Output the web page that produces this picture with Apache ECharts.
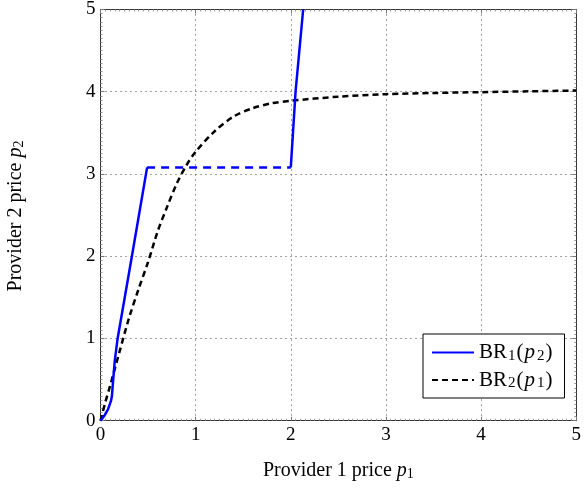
<!DOCTYPE html>
<html><head><meta charset="utf-8">
<script src="https://cdn.jsdelivr.net/npm/echarts@6/dist/echarts.min.js"></script>
<style>html,body{margin:0;padding:0;background:#fff}#c{width:584px;height:490px}</style>
</head><body><div id="c"></div>
<script>
// BR1 solid part (lower), dashed plateau, solid part (upper)
const br1LowX = [0, 0.04, 0.08, 0.11, 0.12, 0.13, 0.15, 0.18, 0.33, 0.49];
const br1LowY = [0, 0.06, 0.14, 0.24, 0.3, 0.45, 0.73, 1.0, 2.0, 3.08];
const br1FlatX = [0.49, 2.0];
const br1FlatY = [3.08, 3.08];
const br1HighX = [2.0, 2.05, 2.13];
const br1HighY = [3.08, 4.0, 5.0];
// BR2
const br2X = [0, 0.05, 0.1, 0.2, 0.3, 0.4, 0.5, 0.6, 0.7, 0.8, 0.9, 1.0, 1.2, 1.4, 1.6, 1.8, 2.0, 2.5, 3.0, 3.5, 4.0, 4.5, 5.0];
const br2Y = [0, 0.22, 0.42, 0.84, 1.25, 1.6, 1.93, 2.3, 2.6, 2.88, 3.1, 3.27, 3.52, 3.7, 3.8, 3.86, 3.89, 3.94, 3.97, 3.985, 3.995, 4.005, 4.015];
const xTicks = [0, 1, 2, 3, 4, 5];
const yTicks = [0, 1, 2, 3, 4, 5];
const legendNames = ['BR1(p2)', 'BR2(p1)'];

const zip = (a, b) => a.map((v, i) => [v, b[i]]);
const FONT = 'Liberation Serif';
const rich = {
  a: {fontFamily: FONT, fontSize: 20, color: '#000'},
  i: {fontFamily: FONT, fontSize: 20, fontStyle: 'italic', color: '#000'},
  s: {fontFamily: FONT, fontSize: 14, color: '#000', padding: [7, 0, 0, 0]}
};
const richL = {
  a: {fontFamily: FONT, fontSize: 21, color: '#000'},
  i: {fontFamily: FONT, fontSize: 21, fontStyle: 'italic', color: '#000', padding: [0, 1, 0, 1]},
  s: {fontFamily: FONT, fontSize: 15, color: '#000', padding: [7, 1, 0, 1]}
};
const legendFmt = {
  'BR1(p2)': '{a|BR}{s|1}{a|(}{i|p}{s|2}{a|)}',
  'BR2(p1)': '{a|BR}{s|2}{a|(}{i|p}{s|1}{a|)}'
};
const axisCommon = (show) => ({
  type: 'value', min: xTicks[0], max: xTicks[xTicks.length - 1], interval: 1,
  axisLine: {show: true, onZero: false, lineStyle: {color: '#333', width: 1}},
  axisTick: {show: true, inside: true, length: 4, lineStyle: {color: '#777'}},
  minorTick: {show: true, splitNumber: 20, length: 2, lineStyle: {color: '#999'}},
  axisLabel: {show: show, fontFamily: FONT, fontSize: 19, color: '#000', margin: 5},
  splitLine: {show: false}
});
const chart = echarts.init(document.getElementById('c'));
const xMain = Object.assign(axisCommon(true), {
  position: 'bottom',
  splitLine: {show: true, lineStyle: {type: [1, 4], color: '#444', width: 1}},
  name: '{a|Provider 1 price }{i|p}{s|1}', nameLocation: 'middle', nameGap: 40,
  nameTextStyle: {rich: rich}
});
const yMain = Object.assign(axisCommon(true), {
  position: 'left', min: yTicks[0], max: yTicks[yTicks.length - 1],
  splitLine: {show: true, lineStyle: {type: [1, 4], color: '#444', width: 1}}
});
const xTop = Object.assign(axisCommon(false), {position: 'top'});
const yRight = Object.assign(axisCommon(false), {position: 'right'});
chart.setOption({
  animation: false,
  grid: {left: 100.5, right: 3.5, top: 5.7, bottom: 69.3, containLabel: false},
  xAxis: [xMain, xTop],
  yAxis: [yMain, yRight],
  graphic: [{
    type: 'text', x: 16, y: 216, rotation: Math.PI / 2,
    style: {rich: rich, text: '{a|Provider 2 price }{i|p}{s|2}', align: 'center', verticalAlign: 'middle'}
  }],
  legend: {
    data: legendNames, orient: 'vertical', left: 423, top: 334,
    padding: [8, 12, 7, 8], itemGap: 6, itemWidth: 42, itemHeight: 14,
    borderColor: '#000', borderWidth: 1, backgroundColor: '#fff',
    itemStyle: {opacity: 0},
    formatter: n => legendFmt[n],
    textStyle: {rich: richL},
    selectedMode: false
  },
  series: [
    {name: legendNames[0], type: 'line', data: zip(br1LowX, br1LowY), symbol: 'none',
     lineStyle: {color: '#0000ff', width: 2.5}, itemStyle: {color: '#0000ff'}, z: 3},
    {name: 'br1flat', type: 'line', data: zip(br1FlatX, br1FlatY), symbol: 'none',
     lineStyle: {color: '#0000ff', width: 2.5, type: [8, 6]}, z: 3},
    {name: 'br1high', type: 'line', data: zip(br1HighX, br1HighY), symbol: 'none',
     lineStyle: {color: '#0000ff', width: 2.5}, z: 3},
    {name: legendNames[1], type: 'line', data: zip(br2X, br2Y), symbol: 'none', smooth: 0.3,
     lineStyle: {color: '#000', width: 2.5, type: [6, 4]}, itemStyle: {color: '#000'}, z: 2}
  ]
});
</script></body></html>
